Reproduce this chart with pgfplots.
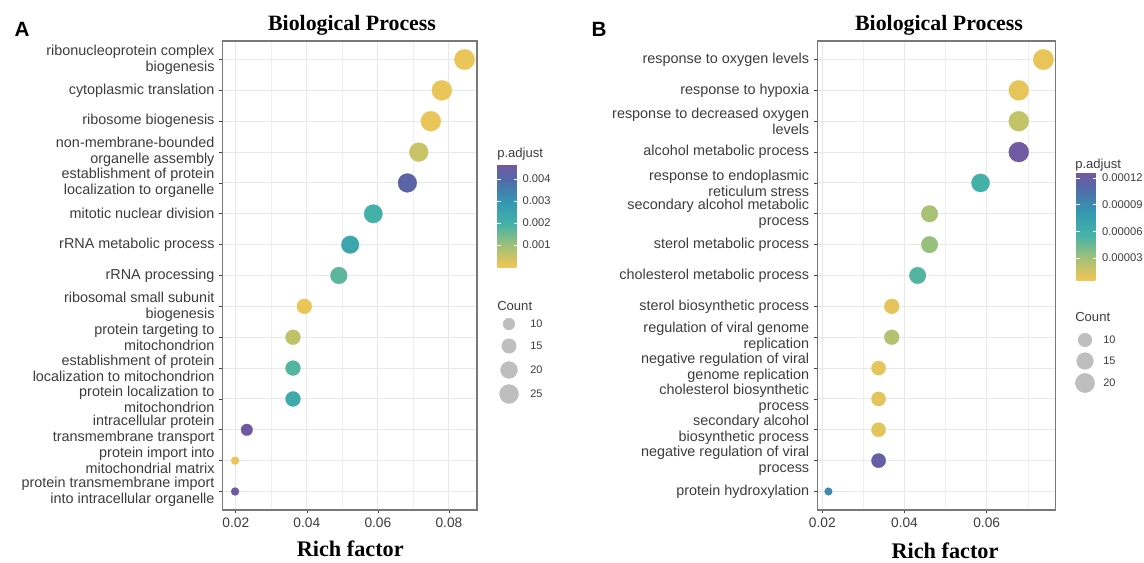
\documentclass[border=0pt]{standalone}
\usepackage{pgfplots}
\usepackage{pgfplotstable}
\pgfplotsset{compat=1.18}
\usepackage{fontspec}
\setmainfont{Liberation Sans}
\newfontfamily\tnr{Liberation Serif}
\definecolor{txt}{RGB}{60,60,60}
\definecolor{gridc}{RGB}{232,232,232}
\definecolor{framec}{RGB}{120,120,120}
\definecolor{lgray}{RGB}{190,190,190}

\pgfplotstableread{
y r c p
1 0.0844 29 0.0001
2 0.0780 28 0.0001
3 0.0749 28 0.0001
4 0.0715 25 0.0005
5 0.0683 25 0.0042
6 0.0587 24 0.0020
7 0.0522 22 0.0024
8 0.0490 20 0.0017
9 0.0393 16 0.0001
10 0.0361 16 0.0006
11 0.0361 16 0.0018
12 0.0361 16 0.0023
13 0.0231 10 0.0046
14 0.0198 5 0.0001
15 0.0198 5 0.0046
}\tabA

\pgfplotstableread{
y r c p
1 0.0738 23 0.000008
2 0.0678 22 0.000009
3 0.0678 22 0.000020
4 0.0678 22 0.000125
5 0.0585 18 0.000057
6 0.0461 15 0.000028
7 0.0461 15 0.000033
8 0.0432 15 0.000052
9 0.0369 12 0.000010
10 0.0369 12 0.000025
11 0.0337 11 0.000010
12 0.0337 11 0.000010
13 0.0337 11 0.000010
14 0.0337 11 0.000120
15 0.0215 3 0.000090
}\tabB

\pgfplotstableread{
x y c
509 324 10
509 346 15
509 370 20
509 394 25
}\legA

\pgfplotstableread{
x y c
1085 340 10
1085 361 15
1085 383 20
}\legB

\pgfplotsset{
  colormap={ga}{rgb255(0cm)=(242,198,85); rgb255(2.1cm)=(160,192,120); rgb255(4.2cm)=(68,178,168); rgb255(6.4cm)=(52,150,178); rgb255(8.5cm)=(82,106,168); rgb255(10cm)=(115,88,160)},
  bp/.style={
    scale only axis, height=351.75pt,
    anchor=south west,
    y dir=reverse, ymin=0.4, ymax=15.6, ytick={1,...,15},
    scaled x ticks=false,
    xtick pos=bottom, ytick pos=left,
    tick align=outside, major tick length=2.6pt, minor tick length=0pt,
    tick style={black!75, line width=0.5pt},
    axis line style={framec, line width=0.9pt},
    xmajorgrids, ymajorgrids, xminorgrids,
    major grid style={gridc, line width=0.7pt},
    minor grid style={gridc!70!white, line width=0.4pt},
    yticklabel style={align=right, font=\fontsize{10.8}{12}\selectfont, text=txt},
    xticklabel style={font=\fontsize{10.3}{12}\selectfont, text=txt},
    clip=false,
    colormap name=ga,
    colorbar,
  },
  cbs/.style={
    at={(parent axis.north east)}, anchor=north west,
    scale only axis,
    scaled y ticks=false,
    axis line style={draw=none},
    ytick pos=both, yticklabel pos=right,
    tick align=inside, major tick length=3pt,
    tick style={white, line width=0.6pt},
    yticklabel style={font=\fontsize{8.4}{10}\selectfont, text=txt},
  },
  szleg/.style={
    scale only axis, anchor=north west, width=15pt, height=90pt,
    ymin=300, ymax=420, y dir=reverse, hide axis, clip=false,
  },
}

\begin{document}
\begin{tikzpicture}
\useasboundingbox (0,0) rectangle (858pt,421.5pt);

% ---------------- Panel A ----------------
\begin{axis}[bp,
  at={(167pt,39pt)}, width=190.75pt,
  xmin=0.0163, xmax=0.0879,
  xtick={0.02,0.04,0.06,0.08}, xticklabels={0.02,0.04,0.06,0.08},
  minor xtick={0.03,0.05,0.07},
  yticklabels={{ribonucleoprotein complex\\biogenesis},{cytoplasmic translation},{ribosome biogenesis},{non-membrane-bounded\\organelle assembly},{establishment of protein\\localization to organelle},{mitotic nuclear division},{rRNA metabolic process},{rRNA processing},{ribosomal small subunit\\biogenesis},{protein targeting to\\mitochondrion},{establishment of protein\\localization to mitochondrion},{protein localization to\\mitochondrion},{intracellular protein\\transmembrane transport},{protein import into\\mitochondrial matrix},{protein transmembrane import\\into intracellular organelle}},
  point meta min=0, point meta max=0.00468,
  colorbar style={cbs, xshift=6.75pt, yshift=-92.25pt, width=15.4pt, height=77.25pt,
    ytick={0.001,0.002,0.003,0.004}, yticklabels={0.001,0.002,0.003,0.004}},
]
\addplot[scatter, only marks, mark=*,
  point meta=\thisrow{p},
  visualization depends on={\thisrow{c}\as\cnt},
  scatter/use mapped color={draw=mapped color, fill=mapped color},
  scatter/@pre marker code/.append style={/tikz/mark size={1.474*sqrt(\cnt)-0.3}},
  mark options={line width=0.2pt}]
  table[x=r, y=y] {\tabA};
\end{axis}

\begin{axis}[szleg, at={(375pt,196.5pt)}, xmin=500, xmax=520]
\addplot[scatter, only marks, mark=*,
  point meta=\thisrow{c},
  visualization depends on={\thisrow{c}\as\cnt},
  scatter/use mapped color={draw=lgray, fill=lgray},
  scatter/@pre marker code/.append style={/tikz/mark size={1.474*sqrt(\cnt)-0.3}}]
  table[x=x, y=y] {\legA};
\addplot[draw=none, mark=none,
  point meta=explicit symbolic,
  nodes near coords,
  every node near coord/.append style={anchor=west, xshift=15.75pt, yshift=0pt, inner sep=0pt, text=txt, font=\fontsize{8.2}{10}\selectfont}]
  table[x=x, y=y, meta=c] {\legA};
\end{axis}

% ---------------- Panel B ----------------
\begin{axis}[bp,
  at={(613pt,39pt)}, width=178.5pt,
  xmin=0.0188, xmax=0.0767,
  xtick={0.02,0.04,0.06}, xticklabels={0.02,0.04,0.06},
  minor xtick={0.03,0.05,0.07},
  yticklabels={{response to oxygen levels},{response to hypoxia},{response to decreased oxygen\\levels},{alcohol metabolic process},{response to endoplasmic\\reticulum stress},{secondary alcohol metabolic\\process},{sterol metabolic process},{cholesterol metabolic process},{sterol biosynthetic process},{regulation of viral genome\\replication},{negative regulation of viral\\genome replication},{cholesterol biosynthetic\\process},{secondary alcohol\\biosynthetic process},{negative regulation of viral\\process},{protein hydroxylation}},
  point meta min=0.0000053, point meta max=0.0001267,
  colorbar style={cbs, xshift=7.25pt, yshift=-98.25pt, width=15.75pt, height=81pt,
    ytick={0.00003,0.00006,0.00009,0.00012}, yticklabels={0.00003,0.00006,0.00009,0.00012}},
]
\addplot[scatter, only marks, mark=*,
  point meta=\thisrow{p},
  visualization depends on={\thisrow{c}\as\cnt},
  scatter/use mapped color={draw=mapped color, fill=mapped color},
  scatter/@pre marker code/.append style={/tikz/mark size={1.56*sqrt(\cnt)+0.19}},
  mark options={line width=0.2pt}]
  table[x=r, y=y] {\tabB};
\end{axis}

\begin{axis}[szleg, at={(806.25pt,196.5pt)}, xmin=1075, xmax=1095]
\addplot[scatter, only marks, mark=*,
  point meta=\thisrow{c},
  visualization depends on={\thisrow{c}\as\cnt},
  scatter/use mapped color={draw=lgray, fill=lgray},
  scatter/@pre marker code/.append style={/tikz/mark size={1.56*sqrt(\cnt)+0.19}}]
  table[x=x, y=y] {\legB};
\addplot[draw=none, mark=none,
  point meta=explicit symbolic,
  nodes near coords,
  every node near coord/.append style={anchor=west, xshift=13.5pt, yshift=0pt, inner sep=0pt, text=txt, font=\fontsize{8.2}{10}\selectfont}]
  table[x=x, y=y, meta=c] {\legB};
\end{axis}

% ---------------- Texts ----------------
\node[anchor=base west, font=\fontsize{15.5}{16}\selectfont\bfseries] at (7.5pt,393.75pt) {A};
\node[anchor=base west, font=\fontsize{15.5}{16}\selectfont\bfseries] at (440.25pt,393.75pt) {B};
\node[anchor=base, font=\tnr\fontsize{16.4}{18}\selectfont\bfseries] at (264pt,399pt) {Biological Process};
\node[anchor=base, font=\tnr\fontsize{16.4}{18}\selectfont\bfseries] at (704.25pt,399pt) {Biological Process};
\node[anchor=base, font=\tnr\fontsize{16.7}{18}\selectfont\bfseries] at (262.7pt,4pt) {Rich factor};
\node[anchor=base, font=\tnr\fontsize{16.7}{18}\selectfont\bfseries] at (708.75pt,3pt) {Rich factor};
\node[anchor=base west, inner sep=0pt, text=txt, font=\fontsize{9.8}{11}\selectfont] at (372.75pt,303.75pt) {p.adjust};
\node[anchor=base west, inner sep=0pt, text=txt, font=\fontsize{9.8}{11}\selectfont] at (372.75pt,189pt) {Count};
\node[anchor=base west, inner sep=0pt, text=txt, font=\fontsize{9.8}{11}\selectfont] at (806.25pt,295.5pt) {p.adjust};
\node[anchor=base west, inner sep=0pt, text=txt, font=\fontsize{9.8}{11}\selectfont] at (806.25pt,180.75pt) {Count};
\end{tikzpicture}
\end{document}
